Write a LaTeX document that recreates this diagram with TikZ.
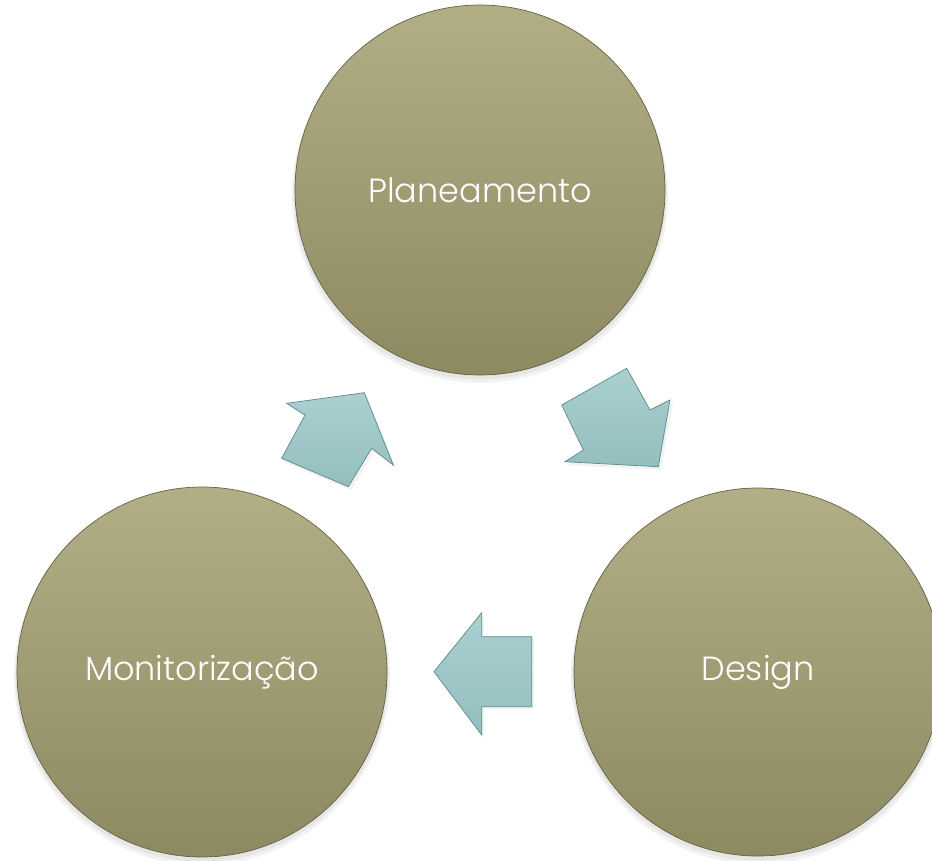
\documentclass[tikz,border=0pt]{standalone}
\usepackage{fontspec}
\setmainfont{Poppins}[UprightFont=* Light]
\definecolor{olTop}{RGB}{178,175,135}
\definecolor{olBot}{RGB}{141,138,98}
\definecolor{olEdge}{RGB}{100,98,66}
\definecolor{tqTop}{RGB}{170,208,208}
\definecolor{tqBot}{RGB}{148,190,190}
\definecolor{tqEdge}{RGB}{92,138,138}
\begin{document}
\begin{tikzpicture}[x=1pt,y=-1pt,
  stage/.style={circle, minimum size=370pt, inner sep=0pt, top color=olTop, bottom color=olBot, draw=olEdge, line width=0.7pt, text=white, font=\fontsize{33.5}{40}\selectfont},
  blockarrow/.style={top color=tqTop, bottom color=tqBot, draw=tqEdge, line width=0.7pt, line join=miter},
  softshadow/.style={fill=black, opacity=0.05}]
\useasboundingbox (0,0) rectangle (932,860);
% soft shadows
\foreach \cx/\cy/\r in {480/190/185, 202/672/185, 758/672/184}{
  \fill[softshadow] (\cx,\cy+5) circle (\r pt+3pt);
  \fill[softshadow] (\cx,\cy+3) circle (\r pt+1.5pt);
}
% circles
\node[stage] (plan) at (480,190) {Planeamento};
\node[stage] (mon) at (202,672) {Monitorização};
\node[stage, minimum size=368pt] (des) at (758,672) {Design};
% block arrows
\fill[softshadow] (289,406) -- (367,396) -- (396,468) -- (374,452) -- (351,490) -- (284,462) -- (307,418) -- cycle;
\draw[blockarrow] (286.7,403.3) -- (364.3,392.7) -- (393.3,465) -- (371.7,448.3) -- (348.3,486.7) -- (281.7,458.3) -- (305,415) -- cycle;
\fill[softshadow] (564,408) -- (629,371) -- (652,413) -- (673,403) -- (661,470) -- (567,465) -- (586,453) -- cycle;
\draw[blockarrow] (561.7,405) -- (626.7,368.3) -- (650,410) -- (670,400) -- (658.3,466.7) -- (565,461.7) -- (583.3,450) -- cycle;
\fill[softshadow] (436,674) -- (484,615) -- (484,639) -- (534,639) -- (534,709) -- (484,709) -- (484,738) -- cycle;
\draw[blockarrow] (434,671.7) -- (481.7,612.7) -- (481.7,636.7) -- (531.7,636.7) -- (531.7,706.7) -- (481.7,706.7) -- (481.7,735) -- cycle;
\end{tikzpicture}
\end{document}
